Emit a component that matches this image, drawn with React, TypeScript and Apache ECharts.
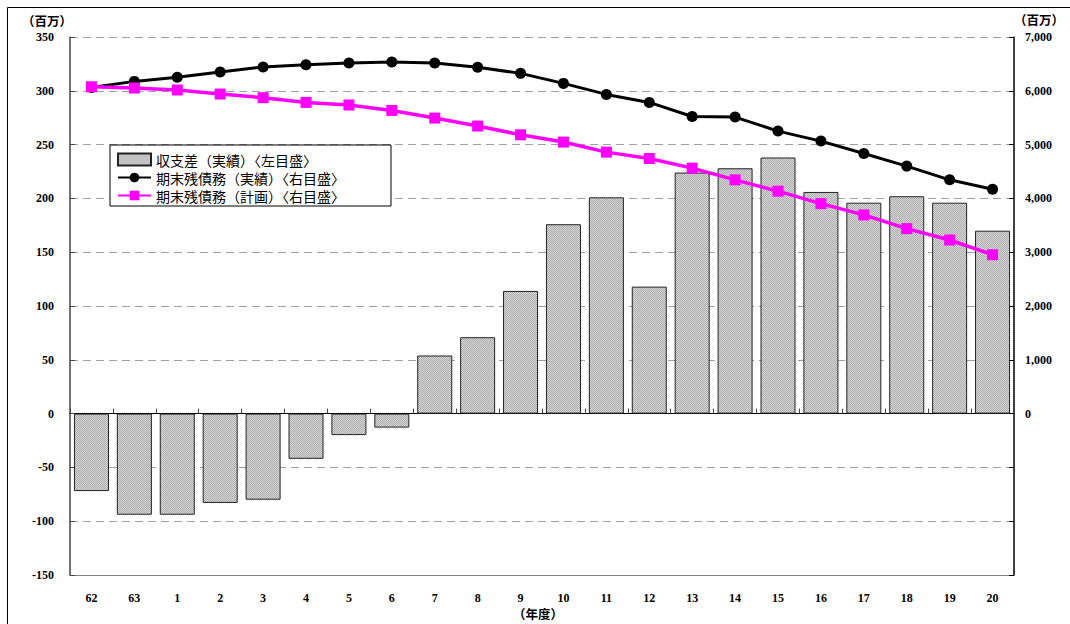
import React, { useEffect, useRef } from "react";
import * as echarts from "echarts";

const years = ["62", "63", "1", "2", "3", "4", "5", "6", "7", "8", "9", "10", "11", "12", "13", "14", "15", "16", "17", "18", "19", "20"];
const balance = [-72, -94, -94, -83, -80, -42, -20, -13, 54, 71, 114, 176, 201, 118, 224, 228, 238, 206, 196, 202, 196, 170];
const debtActual = [6060, 6175, 6250, 6350, 6443, 6486, 6518, 6536, 6518, 6436, 6324, 6138, 5933, 5784, 5523, 5512, 5251, 5065, 4834, 4600, 4345, 4171];
const debtPlan = [6075, 6052, 6015, 5940, 5872, 5784, 5736, 5635, 5493, 5345, 5182, 5047, 4860, 4741, 4562, 4345, 4134, 3903, 3693, 3438, 3227, 2953];

const seriesNames = ["収支差（実績）〈左目盛〉", "期末残債務（実績）〈右目盛〉", "期末残債務（計画）〈右目盛〉"];
const unitLabel = "（百万）";
const xName = "（年度）";

export default function App() {
  const ref = useRef<HTMLDivElement>(null);
  useEffect(() => {
    if (!ref.current) return;
    const chart = echarts.init(ref.current, undefined, { renderer: "svg" });
    const c = document.createElement("canvas");
    c.width = 2;
    c.height = 2;
    const ctx = c.getContext("2d")!;
    ctx.fillStyle = "#d8d8d8";
    ctx.fillRect(0, 0, 2, 2);
    ctx.fillStyle = "#ababab";
    ctx.fillRect(0, 0, 1, 1);
    ctx.fillRect(1, 1, 1, 1);
    const pattern: any = { image: c, repeat: "repeat" };
    const serif = "'Liberation Serif', 'Times New Roman', serif";
    const cjk = "'Noto Sans CJK JP', sans-serif";
    const tickFont = { fontFamily: serif, fontWeight: "bold" as const, fontSize: 12, color: "#000" };
    chart.setOption({
      animation: false,
      backgroundColor: "#fff",
      grid: { left: 70, right: 56, top: 37, bottom: 49, containLabel: false },
      legend: {
        left: 110,
        top: 145,
        orient: "vertical",
        backgroundColor: "#fff",
        borderColor: "#000",
        borderWidth: 1,
        padding: [6, 46, 2, 7],
        itemGap: 1,
        itemWidth: 33,
        itemHeight: 12,
        textStyle: { fontFamily: cjk, fontSize: 14, lineHeight: 17, color: "#000" },
        data: [
          { name: seriesNames[0], icon: "rect" },
          { name: seriesNames[1] },
          { name: seriesNames[2] },
        ],
      },
      xAxis: [
        {
          type: "category",
          data: years,
          position: "bottom",
          axisLine: { onZero: false, lineStyle: { color: "#808080", width: 1 } },
          axisTick: { show: false },
          axisLabel: { ...tickFont, margin: 17, interval: 0 },
          splitLine: { show: false },
        },
        {
          type: "category",
          data: years,
          position: "top",
          axisLine: { onZero: true, onZeroAxisIndex: 0, lineStyle: { color: "#000", width: 1 } },
          axisTick: { show: true, inside: false, length: 5, interval: 0, lineStyle: { color: "#444" } },
          axisLabel: { show: false },
          splitLine: { show: false },
        },
      ],
      yAxis: [
        {
          type: "value",
          min: -150,
          max: 350,
          interval: 50,
          position: "left",
          axisLine: { show: true, lineStyle: { color: "#444", width: 1.5 } },
          axisTick: { show: true, inside: true, length: 5, lineStyle: { color: "#444" } },
          axisLabel: { ...tickFont, margin: 16 },
          splitLine: { show: true, lineStyle: { color: "#a0a0a0", type: [8, 5], width: 1 } },
        },
        {
          type: "value",
          min: -3000,
          max: 7000,
          interval: 1000,
          position: "right",
          axisLine: { show: true, lineStyle: { color: "#000", width: 1.5 } },
          axisTick: { show: true, inside: true, length: 5, lineStyle: { color: "#000" } },
          axisLabel: {
            ...tickFont,
            margin: 11,
            formatter: (v: number) => (v < 0 ? "" : v.toLocaleString("en-US")),
          },
          splitLine: { show: false },
        },
      ],
      series: [
        {
          name: seriesNames[0],
          type: "bar",
          xAxisIndex: 0,
          yAxisIndex: 0,
          data: balance,
          barWidth: 35,
          itemStyle: { color: pattern, borderColor: "#222", borderWidth: 1 },
        },
        {
          name: seriesNames[1],
          type: "line",
          xAxisIndex: 0,
          yAxisIndex: 1,
          data: debtActual,
          symbol: "circle",
          symbolSize: 11,
          lineStyle: { color: "#000", width: 3 },
          itemStyle: { color: "#000" },
        },
        {
          name: seriesNames[2],
          type: "line",
          xAxisIndex: 0,
          yAxisIndex: 1,
          data: debtPlan,
          symbol: "rect",
          symbolSize: 11,
          lineStyle: { color: "#ff00ff", width: 3.5 },
          itemStyle: { color: "#ff00ff" },
        },
      ],
      graphic: [
        {
          type: "rect",
          shape: { x: 7.5, y: 7.5, width: 1100, height: 700 },
          style: { fill: "none", stroke: "#000", lineWidth: 1 },
          silent: true,
          z: -10,
        },
        {
          type: "text",
          x: 47,
          y: 20,
          style: { text: unitLabel, fontFamily: cjk, fontWeight: "bold", fontSize: 12.5, fill: "#000", align: "center", verticalAlign: "middle" },
        },
        {
          type: "text",
          x: 1039,
          y: 19,
          style: { text: unitLabel, fontFamily: cjk, fontWeight: "bold", fontSize: 12.5, fill: "#000", align: "center", verticalAlign: "middle" },
        },
        {
          type: "text",
          x: 538,
          y: 613,
          style: { text: xName, fontFamily: cjk, fontWeight: "bold", fontSize: 12.5, fill: "#000", align: "center", verticalAlign: "middle" },
        },
      ],
    });
    return () => chart.dispose();
  }, []);
  return (
    <div
      ref={ref}
      style={{ position: "absolute", left: 0, top: 0, width: 1070, height: 624, overflow: "hidden" }}
    />
  );
}
